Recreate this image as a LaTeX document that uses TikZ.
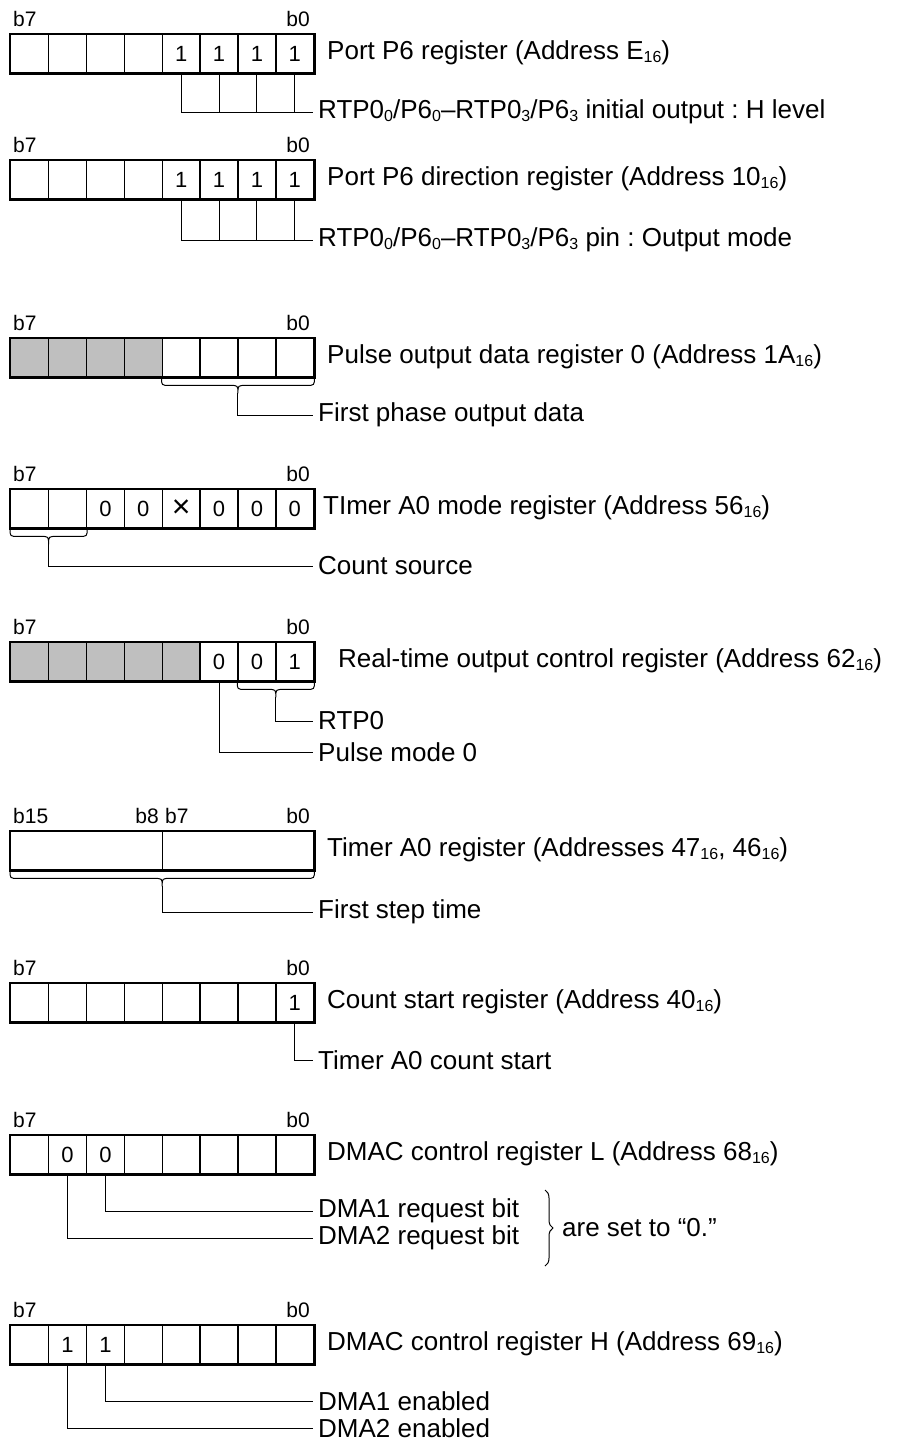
\documentclass[tikz,border=0pt]{standalone}
\usepackage{fontspec}
\setmainfont{Liberation Sans}
\frenchspacing
\usetikzlibrary{calc,decorations.pathreplacing}
\newcommand\lsub[1]{\raisebox{-0.1em}{\fontsize{16}{16}\selectfont #1}}
\tikzset{
  cell/.style={draw, line width=1.4pt, minimum width=37.875pt, minimum height=38pt,
    inner sep=0pt, anchor=north west, font=\fontsize{22}{22}\selectfont},
  cw/.style={fill=white},
  cg/.style={fill=black!25},
  outer/.style={line width=2.2pt},
  bitlab/.style={font=\fontsize{21}{21}\selectfont, inner sep=0pt},
  lab/.style={font=\fontsize{26}{26}\selectfont, anchor=west, inner sep=0pt},
  tlab/.style={font=\fontsize{26}{26}\selectfont, anchor=west, inner xsep=5pt, inner ysep=0pt},
  conn/.style={line width=1pt},
}
\newcommand\regrow[3]{%
  \foreach \v/\s [count=\i from 0] in {#3}{
    \node[cell,\s] (#1c\i) at ({10+\i*37.875},#2) {\v};
  }
  \draw[outer] (#1c0.north west) rectangle (#1c7.south east);
  \node[bitlab, anchor=base west] (#1b7) at (13,#2-8) {b7};
  \node[bitlab, anchor=base east] (#1b0) at (310,#2-8) {b0};
}
\newcommand\ubr[3]{%
  \draw[conn] (#1) .. controls ($(#1)+(0,8)$) .. ($(#1)+(8,8)$)
    -- ($(#3)+(-8,-8)$) .. controls ($(#3)+(0,-8)$) .. (#3)
    .. controls ($(#3)+(0,-8)$) .. ($(#3)+(8,-8)$)
    -- ($(#2)+(-8,8)$) .. controls ($(#2)+(0,8)$) .. (#2);
}
\begin{document}
\begin{tikzpicture}[x=1pt,y=-1pt]
\useasboundingbox (0,0) rectangle (899,1443);
% ---------- 1
\regrow{ra}{34}{{}/cw,{}/cw,{}/cw,{}/cw,1/cw,1/cw,1/cw,1/cw}
\node[lab] (La) at (327,53) {Port P6 register (Address E\lsub{16})};
\node[tlab] (ta) at (313,112) {RTP0\lsub{0}/P6\lsub{0}–RTP0\lsub{3}/P6\lsub{3} initial output : H level};
\draw[conn] (rac4.south) |- (ta.west);
\foreach \k in {5,6,7}{\draw[conn] (rac\k.south) -- (rac\k.south |- ta.west);}
% ---------- 2
\regrow{rb}{160}{{}/cw,{}/cw,{}/cw,{}/cw,1/cw,1/cw,1/cw,1/cw}
\node[lab] (Lb) at (327,179) {Port P6 direction register (Address 10\lsub{16})};
\node[tlab] (tb) at (313,240) {RTP0\lsub{0}/P6\lsub{0}–RTP0\lsub{3}/P6\lsub{3} pin : Output mode};
\draw[conn] (rbc4.south) |- (tb.west);
\foreach \k in {5,6,7}{\draw[conn] (rbc\k.south) -- (rbc\k.south |- tb.west);}
% ---------- 3
\regrow{rc}{338}{{}/cg,{}/cg,{}/cg,{}/cg,{}/cw,{}/cw,{}/cw,{}/cw}
\node[lab] (Lc) at (327,357) {Pulse output data register 0 (Address 1A\lsub{16})};
\node[tlab] (tc) at (313,415) {First phase output data};
\coordinate (tipc) at ($(rcc4.south west)!0.5!(rcc7.south east)+(0,16)$);
\ubr{rcc4.south west}{rcc7.south east}{tipc}
\draw[conn] (tipc) |- (tc.west);
% ---------- 4
\regrow{rd}{489}{{}/cw,{}/cw,0/cw,0/cw,{\raisebox{-3pt}{\fontsize{32}{32}\selectfont ×}}/cw,0/cw,0/cw,0/cw}
\node[lab] (Ld) at (323,508) {TImer A0 mode register (Address 56\lsub{16})};
\node[tlab] (td) at (313,566) {Count source};
\coordinate (tipd) at ($(rdc0.south west)!0.5!(rdc1.south east)+(0,16)$);
\ubr{rdc0.south west}{rdc1.south east}{tipd}
\draw[conn] (tipd) |- (td.west);
% ---------- 5
\regrow{re}{642}{{}/cg,{}/cg,{}/cg,{}/cg,{}/cg,0/cw,0/cw,1/cw}
\node[lab] (Le) at (338,661) {Real-time output control register (Address 62\lsub{16})};
\node[tlab] (tea) at (313,721) {RTP0};
\node[tlab] (teb) at (313,752) {Pulse mode 0};
\coordinate (tipe) at ($(rec6.south west)!0.5!(rec7.south east)+(0,16)$);
\ubr{rec6.south west}{rec7.south east}{tipe}
\draw[conn] (tipe) |- (tea.west);
\draw[conn] (rec5.south) |- (teb.west);
% ---------- 6
\node[cell,cw,minimum width=151.5pt] (rfa) at (10,831) {};
\node[cell,cw,minimum width=151.5pt] (rfb) at (161.5,831) {};
\draw[outer] (rfa.north west) rectangle (rfb.south east);
\node[bitlab, anchor=base west] (rfb15) at (13,823) {b15};
\node[bitlab, anchor=base east] (rfb8) at (159,823) {b8};
\node[bitlab, anchor=base west] (rfb7) at (165,823) {b7};
\node[bitlab, anchor=base east] (rfb0) at (310,823) {b0};
\node[lab] (Lf) at (327,850) {Timer A0 register (Addresses 47\lsub{16}, 46\lsub{16})};
\node[tlab] (tf) at (313,912) {First step time};
\coordinate (tipf) at ($(rfa.south west)!0.5!(rfb.south east)+(0,16)$);
\ubr{rfa.south west}{rfb.south east}{tipf}
\draw[conn] (tipf) |- (tf.west);
% ---------- 7
\regrow{rg}{983}{{}/cw,{}/cw,{}/cw,{}/cw,{}/cw,{}/cw,{}/cw,1/cw}
\node[lab] (Lg) at (327,1002) {Count start register (Address 40\lsub{16})};
\node[tlab] (tg) at (313,1060) {Timer A0 count start};
\draw[conn] (rgc7.south) |- (tg.west);
% ---------- 8
\regrow{rh}{1135}{{}/cw,0/cw,0/cw,{}/cw,{}/cw,{}/cw,{}/cw,{}/cw}
\node[lab] (Lh) at (327,1154) {DMAC control register L (Address 68\lsub{16})};
\node[tlab] (tha) at (313,1211) {DMA1 request bit};
\node[tlab] (thb) at (313,1238) {DMA2 request bit};
\draw[conn] (rhc2.south) |- (tha.west);
\draw[conn] (rhc1.south) |- (thb.west);
\coordinate (brt) at (545,1190);
\coordinate (brb) at (545,1266);
\draw[conn, decorate, decoration={brace, amplitude=8pt}] (brt) -- (brb);
\node[lab] (thc) at (562,1228) {are set to “0.”};
% ---------- 9
\regrow{ri}{1325}{{}/cw,1/cw,1/cw,{}/cw,{}/cw,{}/cw,{}/cw,{}/cw}
\node[lab] (Li) at (327,1344) {DMAC control register H (Address 69\lsub{16})};
\node[tlab] (tia) at (313,1401) {DMA1 enabled};
\node[tlab] (tib) at (313,1428) {DMA2 enabled};
\draw[conn] (ric2.south) |- (tia.west);
\draw[conn] (ric1.south) |- (tib.west);
\end{tikzpicture}
\end{document}
